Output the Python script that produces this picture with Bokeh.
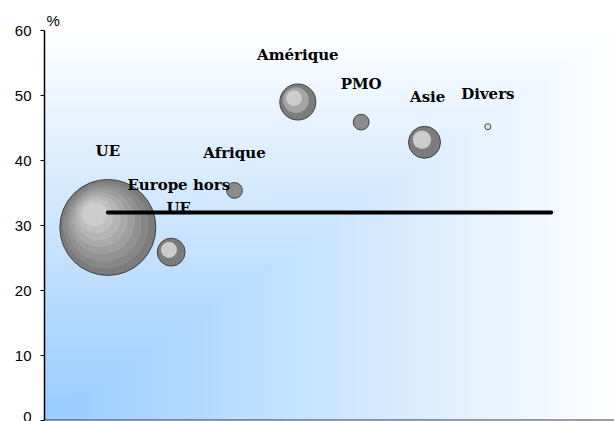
import numpy as np
from bokeh.plotting import figure
from bokeh.models import Span, FixedTicker, Title
from bokeh.core.properties import value
from bokeh.embed import file_html
from bokeh.resources import INLINE

# ---- data ----
categories = ["UE", "Europe hors\nUE", "Afrique", "Amérique", "PMO", "Asie", "Divers"]
x_pos = [1, 2, 3, 4, 5, 6, 7]
y_values = [29.7, 25.9, 35.4, 49.0, 45.9, 42.8, 45.2]
weights = [63.0, 5.3, 1.7, 8.9, 1.7, 7.0, 0.25]
label_x = [1.0, 2.12, 3.0, 4.0, 5.0, 6.05, 7.0]
label_y = [41.5, 34.5, 41.2, 56.2, 51.7, 49.8, 50.2]
avg_value = 32
avg_x = [1, 8]
y_ticks = [0, 10, 20, 30, 40, 50, 60]
x_range = (0, 9)
y_range = (0, 60)

# ---- layout ----
W, H = 614, 421
ML, MT, MB = 44, 30, 1
FW, FH = W - ML, H - MT - MB

p = figure(width=W, height=H, output_backend="svg", toolbar_location=None,
           x_range=x_range, y_range=y_range,
           min_border_left=ML, min_border_top=MT, min_border_right=0,
           min_border_bottom=MB)
p.outline_line_color = None
p.background_fill_color = "white"
p.border_fill_color = "white"
p.xgrid.visible = False
p.ygrid.visible = False
p.xaxis.visible = False

ax = p.yaxis[0]
ax.ticker = FixedTicker(ticks=y_ticks)
ax.minor_tick_line_color = None
ax.major_tick_in = 0
ax.major_tick_out = 4
ax.axis_line_color = "black"
ax.axis_line_width = 1.5
ax.major_tick_line_color = "black"
ax.major_label_text_font = "Liberation Sans"
ax.major_label_text_font_size = "15px"
ax.major_label_text_color = "black"
ax.major_label_standoff = 9

# ---- gradient background (from bottom-left corner) ----
GH, GW = FH, FW
u = np.linspace(0, 1, GW)[None, :]
v = np.linspace(0, 1, GH)[:, None]
t = np.clip(1 - np.maximum(u, v), 0, 1)
img = np.empty((GH, GW), dtype=np.uint32)
view = img.view(dtype=np.uint8).reshape((GH, GW, 4))
view[:, :, 0] = (255 - (255 - 153) * t).astype(np.uint8)
view[:, :, 1] = (255 - (255 - 204) * t).astype(np.uint8)
view[:, :, 2] = 255
view[:, :, 3] = 255
p.image_rgba(image=[img], x=x_range[0], y=y_range[0],
             dw=x_range[1] - x_range[0], dh=y_range[1] - y_range[0])

# ---- bottom axis line ----
p.add_layout(Span(location=0, dimension="width", line_color="#3a3f48", line_width=2))

# ---- bubbles with radial shading ----
px_x = FW / (x_range[1] - x_range[0])
px_y = FH / (y_range[1] - y_range[0])
R_MAX = 48.0
wmax = max(weights)
for xi, yi, wi in zip(x_pos, y_values, weights):
    r = R_MAX * np.sqrt(wi / wmax)
    n = max(1, int(r / 6))
    for k in range(n):
        f = k / n
        rad = r * (1 - 0.85 * f)
        off = 0.32 * r * f
        if n > 1:
            g = int(124 + 80 * (k / (n - 1)))
        else:
            g = 140 if r >= 5 else 225
        col = "#%02x%02x%02x" % (g, g, g)
        p.scatter(x=[xi - off / px_x], y=[yi + off / px_y], size=2 * rad,
                  marker="circle", fill_color=col,
                  line_color="#404040" if k == 0 else None,
                  line_width=1)

# ---- average line ----
p.line(x=avg_x, y=[avg_value, avg_value], line_color="black", line_width=4,
       line_cap="round")

# ---- labels ----
p.text(x=label_x, y=label_y, text=categories, text_font=value("DejaVu Serif"),
       text_font_style="bold", text_font_size="15px", text_color="black",
       text_align="center", text_baseline="middle", text_line_height=1.3)

p.add_layout(Title(text="%", align="left", offset=2, standoff=3,
                   text_font="Liberation Sans", text_font_size="15px",
                   text_font_style="normal", text_color="black"), "above")

open("out.html", "w").write(file_html(p, INLINE))
